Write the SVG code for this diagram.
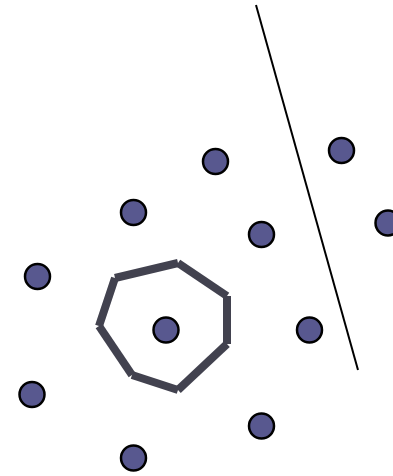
<svg xmlns="http://www.w3.org/2000/svg" width="393" height="476" viewBox="0 0 393 476">
<style>
.pt{fill:#58588f;stroke:#000;stroke-width:2.5}
.hull{stroke:#42424f;stroke-width:8;stroke-linecap:butt;fill:none}
.sep{stroke:#000;stroke-width:2;fill:none}
</style>
<rect width="393" height="476" fill="#fff"/>
<g id="connectors">
<line class="sep" x1="256" y1="5" x2="358" y2="370"/>
<g class="hull">
<line x1="115" y1="278" x2="178" y2="263"/>
<line x1="178" y1="263" x2="227" y2="296"/>
<line x1="227" y1="296" x2="227" y2="344"/>
<line x1="227" y1="344" x2="178" y2="390"/>
<line x1="178" y1="390" x2="132" y2="375"/>
<line x1="132" y1="375" x2="99" y2="326"/>
<line x1="99" y1="326" x2="115" y2="278"/>
</g>
</g>
<g id="n1"><circle class="pt" cx="215.5" cy="161.5" r="12.5"/></g>
<g id="n2"><circle class="pt" cx="341.5" cy="150.5" r="12.5"/></g>
<g id="n3"><circle class="pt" cx="133.5" cy="212.5" r="12.5"/></g>
<g id="n4"><circle class="pt" cx="261.5" cy="234.5" r="12.5"/></g>
<g id="n5"><circle class="pt" cx="388" cy="223" r="12.5"/></g>
<g id="n6"><circle class="pt" cx="37.5" cy="276.5" r="12.5"/></g>
<g id="n7"><circle class="pt" cx="166" cy="330" r="12.5"/></g>
<g id="n8"><circle class="pt" cx="309.5" cy="330" r="12.5"/></g>
<g id="n9"><circle class="pt" cx="32" cy="394.5" r="12.5"/></g>
<g id="n10"><circle class="pt" cx="261.5" cy="426" r="12.5"/></g>
<g id="n11"><circle class="pt" cx="133.5" cy="458" r="12.5"/></g>
</svg>
